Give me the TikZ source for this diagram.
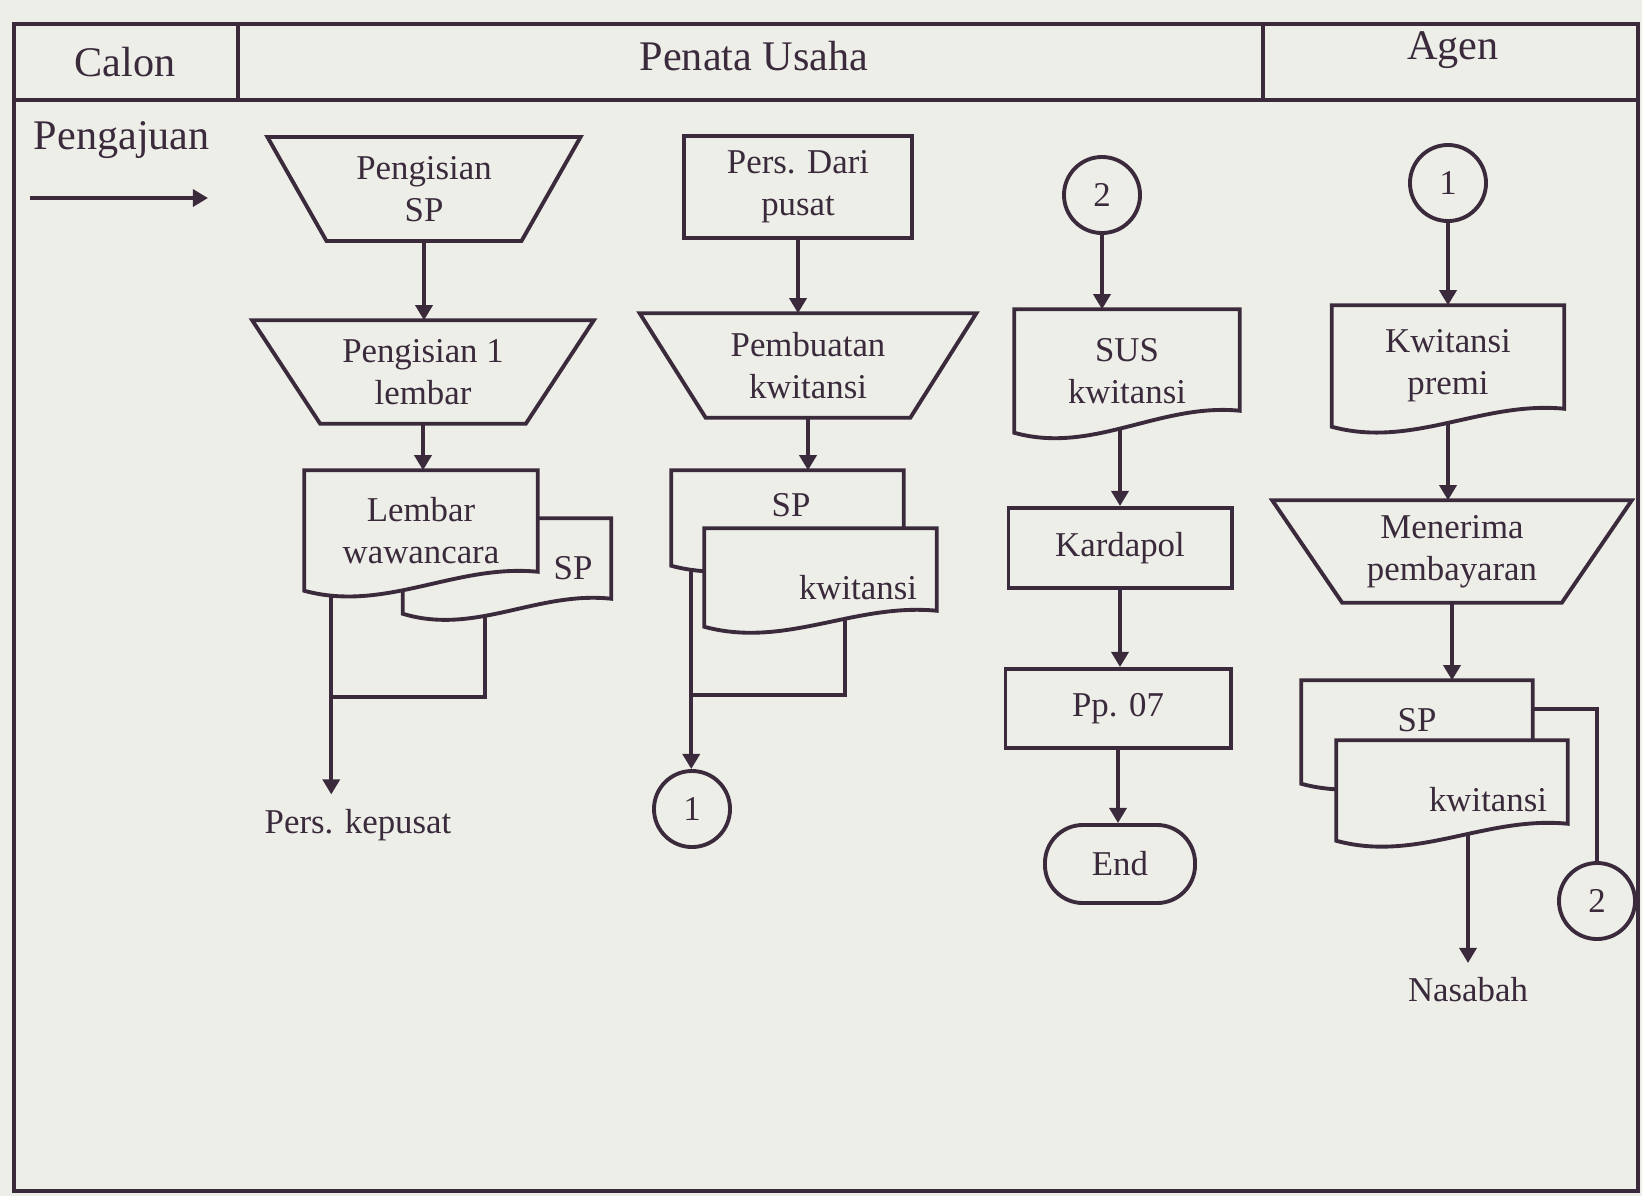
\documentclass[tikz,border=0pt]{standalone}
\usepackage{fontspec}
\setmainfont{Liberation Serif}
\usetikzlibrary{arrows.meta,backgrounds}

\definecolor{ink}{RGB}{58,42,60}
\definecolor{paper}{RGB}{236,238,231}
\newcommand{\flowfont}{\fontsize{9.9}{12}\selectfont}
\newcommand{\headfont}{\fontsize{12}{14}\selectfont}

% trapezium round node #1, #2 = inset of the lower side
\newcommand{\trapline}[2]{%
  \begin{pgfonlayer}{background}
  \draw[outline] (#1.north west) -- (#1.north east) -- ([shift={(-#2,0)}]#1.south east)
    -- ([shift={(#2,0)}]#1.south west) -- cycle;
  \end{pgfonlayer}}
% document round node #1, #2 = width, #3 = rise of the wave
\newcommand{\docline}[3]{%
  \begin{pgfonlayer}{background}
  \draw[outline,fill=paper] (#1.south west) -- (#1.north west) -- (#1.north east)
    -- ([shift={(0,-#3)}]#1.south east)
    .. controls ([shift={(0.65*#2,-#3-8)}]#1.south west)
    and ([shift={(0.35*#2,22)}]#1.south west) .. (#1.south west) -- cycle;
  \end{pgfonlayer}}
% copy behind a document
\newcommand{\copyline}[1]{%
  \begin{pgfonlayer}{background}
  \draw[outline,fill=paper] (#1.north west) rectangle (#1.south east);
  \end{pgfonlayer}}

\begin{document}
\begin{tikzpicture}[x=0.01cm,y=-0.01cm,color=ink,line width=1.1pt,
    >={Triangle[length=4.3pt,width=4.8pt]}]
  \tikzstyle{outline}=[draw=ink,line width=1.1pt,line join=miter]
  \tikzstyle{flow}=[->,line width=1.1pt]
  \tikzstyle{box}=[inner sep=0pt,align=center,font=\flowfont]
  \tikzstyle{rect}=[box,draw,line width=1.1pt]
  \tikzstyle{conn}=[circle,draw,line width=1.1pt,minimum size=0.76cm,inner sep=0pt,font=\flowfont]
  \tikzstyle{term}=[rect,rounded corners=0.38cm,minimum width=1.5cm,minimum height=0.78cm]
  \tikzstyle{head}=[inner sep=0pt,font=\headfont]
  \tikzstyle{txt}=[inner sep=4pt,font=\flowfont]
  \begin{scope}[on background layer]
    \fill[paper] (0,0) rectangle (1642,1196);
  \end{scope}
  \useasboundingbox (0,0) rectangle (1642,1196);

  % lanes
  \draw[line width=1.1pt] (14,24) rectangle (1638,1191);
  \draw[line width=1.1pt] (14,100) -- (1638,100);
  \draw[line width=1.1pt] (238,24) -- (238,100) (1263,24) -- (1263,100);
  \node[head] (calon) at (125,62) {Calon};
  \node[head] (pu) at (754,56) {Penata Usaha};
  \node[head] (agen) at (1453,50) {Agen};
  \node[head,anchor=west] (aju) at (32,140) {Pengajuan};
  \coordinate (in0) at (30,198);
  \coordinate (in1) at (208,198);

  % Pengisian SP
  \node[box,minimum width=3.09cm,minimum height=1.00cm] (isisp) at (424,189) {Pengisian\\SP};
  \trapline{isisp}{59}
  \node[box,minimum width=3.40cm,minimum height=1.02cm] (isi1) at (423,372) {Pengisian 1\\lembar};
  \trapline{isi1}{68}
  \node[box,minimum width=1.52cm,minimum height=1.92cm] (tigaa) at (408,600) {};
  \copyline{tigaa}
  \node[box,minimum width=2.07cm,minimum height=0.94cm] (spa) at (507,566) {};
  \docline{spa}{207}{15}
  \node[txt] (spa-t) at (573,568) {SP};
  \node[box,minimum width=2.32cm,minimum height=1.19cm] (lembar) at (421,530.5) {Lembar\\wawancara};
  \docline{lembar}{232}{19}
  \node[txt] (kepusat) at (358,825) {Pers. kepusat};

  % Pers. Dari pusat
  \node[rect,minimum width=2.28cm,minimum height=1.02cm] (pdp) at (798,187) {Pers. Dari\\pusat};
  \node[box,minimum width=3.35cm,minimum height=1.03cm] (buat) at (808,365.5) {Pembuatan\\kwitansi};
  \trapline{buat}{66}
  \node[box,minimum width=1.52cm,minimum height=1.94cm] (tigab) at (768,597) {};
  \copyline{tigab}
  \node[box,minimum width=2.31cm,minimum height=0.94cm] (spb) at (787.5,518) {};
  \docline{spb}{231}{18}
  \node[txt] (spb-t) at (791,505) {SP};
  \node[box,minimum width=2.31cm,minimum height=0.97cm] (kwb) at (820.5,577.5) {};
  \docline{kwb}{231}{16}
  \node[txt] (kwb-t) at (858,588) {kwitansi};
  \node[conn] (c1b) at (692,809) {1};

  % SUS kwitansi
  \node[conn] (c2c) at (1102,195) {2};
  \node[box,minimum width=2.24cm,minimum height=1.22cm] (sus) at (1127,371) {SUS\\kwitansi};
  \docline{sus}{224}{22}
  \node[rect,minimum width=2.23cm,minimum height=0.80cm] (kard) at (1120,548) {Kardapol};
  \node[rect,minimum width=2.25cm,minimum height=0.79cm] (pp) at (1118,708.5) {Pp. 07};
  \node[term] (endt) at (1120,864) {End};

  % Agen
  \node[conn] (c1d) at (1448,183) {1};
  \node[box,minimum width=2.31cm,minimum height=1.20cm] (kwp) at (1448,366) {Kwitansi\\premi};
  \docline{kwp}{231}{18}
  \node[box,minimum width=3.58cm,minimum height=1.01cm] (terima) at (1452,551.5) {Menerima\\pembayaran};
  \trapline{terima}{70}
  \node[box,minimum width=2.30cm,minimum height=1.02cm] (spd) at (1417,732) {};
  \docline{spd}{230}{18}
  \node[txt] (spd-t) at (1417,720) {SP};
  \node[box,minimum width=2.30cm,minimum height=0.99cm] (kwd) at (1452,790.5) {};
  \docline{kwd}{230}{17}
  \node[txt] (kwd-t) at (1488,800) {kwitansi};
  \node[conn] (c2d) at (1597,901) {2};
  \node[txt] (nasabah) at (1468,990) {Nasabah};

  % flow
  \draw[flow] (in0) -- (in1);
  \draw[flow] (isisp.south) -- (isisp.south |- isi1.north);
  \draw[flow] (isi1.south) -- (isi1.south |- lembar.north);
  \draw[flow] (tigaa.south west) -- (tigaa.south west |- kepusat.north);
  \draw[flow] (pdp.south) -- (pdp.south |- buat.north);
  \draw[flow] (buat.south) -- (buat.south |- spb.north);
  \draw[flow] (tigab.south west) -- (tigab.south west |- c1b.north);
  \draw[flow] (c2c.south) -- (c2c.south |- sus.north);
  \draw[flow,shorten <=-1.2pt] (sus.south -| kard.north) -- (kard.north);
  \draw[flow] (kard.south) -- (kard.south |- pp.north);
  \draw[flow] (pp.south) -- (pp.south |- endt.north);
  \draw[flow] (c1d.south) -- (c1d.south |- kwp.north);
  \draw[flow,shorten <=-1.2pt] (kwp.south) -- (kwp.south |- terima.north);
  \draw[flow] (terima.south) -- (terima.south |- spd.north);
  \draw[line width=1.1pt] ([yshift=-0.29cm]spd.north east) -| (c2d.north);
  \draw[flow,shorten <=-1.5pt] (kwd.south -| nasabah.north) -- (nasabah.north);
\end{tikzpicture}
\end{document}
